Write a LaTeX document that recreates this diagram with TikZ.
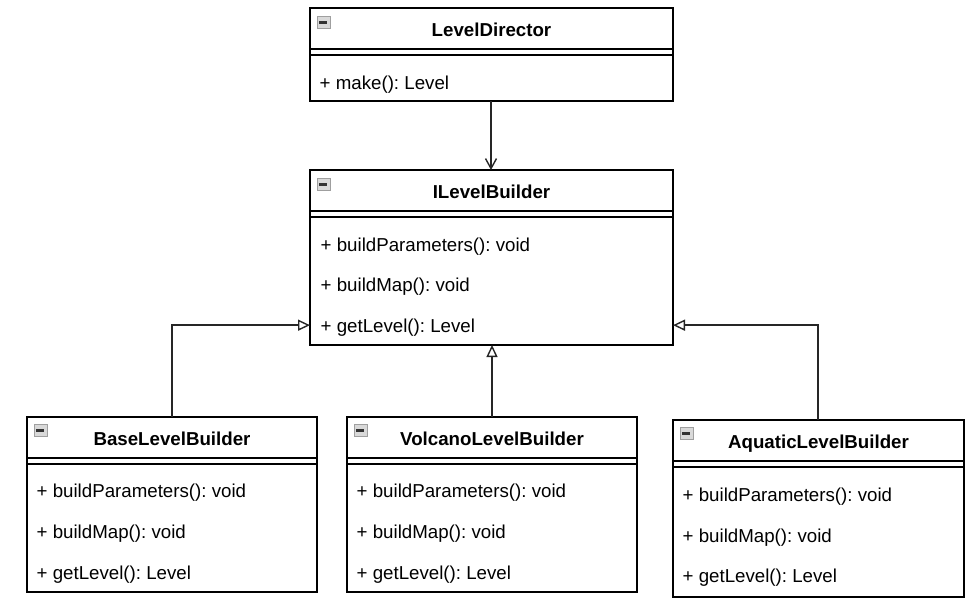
\documentclass[tikz,border=0pt]{standalone}
\usepackage{fontspec}
\setmainfont{Liberation Sans}
\usetikzlibrary{arrows.meta}
\frenchspacing

\begin{document}
\begin{tikzpicture}[x=1pt,y=-1pt,line width=1.4pt,
  class/.style={draw,anchor=north west,inner sep=0pt,outer sep=0pt,minimum width=290pt,minimum height=175pt},
  class name/.style={anchor=base,font=\fontsize{18.7}{22}\selectfont\bfseries},
  member/.style={anchor=base west,inner sep=0pt,font=\fontsize{18.7}{22}\selectfont},
  fold/.style={anchor=north west,draw=gray!75,fill=gray!30,line width=0.9pt,
    minimum width=13pt,minimum height=12pt,inner sep=0pt,
    path picture={\draw[line width=2.2pt,black!80]
      ([xshift=2.5pt]path picture bounding box.west) -- ([xshift=-2.5pt]path picture bounding box.east);}},
  inherit/.style={draw=black!85,line width=1.6pt,-{Triangle[open,length=12pt,width=11pt,line width=1.4pt]}},
  uses/.style={draw=black!85,line width=1.6pt,-{Straight Barb[length=10pt,width=11pt,line width=1.4pt]}}]

\useasboundingbox (0,0) rectangle (980,600);

% director
\node[class,minimum width=363pt,minimum height=93pt] (director) at (310,8) {};
\node[fold] (director fold) at ([shift={(6.5pt,-8pt)}]director.north west) {};
\node[class name] (director name) at ([yshift=-28pt]director.north) {LevelDirector};
\draw ([yshift=-41pt]director.north west) -- ([yshift=-41pt]director.north east)
      ([yshift=-47pt]director.north west) -- ([yshift=-47pt]director.north east);
\node[member] (director make) at ([shift={(9pt,-81pt)}]director.north west) {+ make(): Level};

% builder interface
\node[class,minimum width=363pt] (builder) at (310,170) {};
\node[fold] (builder fold) at ([shift={(6.5pt,-8pt)}]builder.north west) {};
\node[class name] (builder name) at ([yshift=-28pt]builder.north) {ILevelBuilder};
\draw ([yshift=-41pt]builder.north west) -- ([yshift=-41pt]builder.north east)
      ([yshift=-47pt]builder.north west) -- ([yshift=-47pt]builder.north east);
\node[member] (builder params) at ([shift={(10pt,-81.5pt)}]builder.north west) {+ buildParameters(): void};
\node[member] (builder map) at ([shift={(10pt,-121.5pt)}]builder.north west) {+ buildMap(): void};
\node[member] (builder level) at ([shift={(10pt,-162.5pt)}]builder.north west) {+ getLevel(): Level};

% base
\node[class] (base) at (27,417) {};
\node[fold] (base fold) at ([shift={(6.5pt,-7pt)}]base.north west) {};
\node[class name] (base name) at ([yshift=-28.5pt]base.north) {BaseLevelBuilder};
\draw ([yshift=-41pt]base.north west) -- ([yshift=-41pt]base.north east)
      ([yshift=-47pt]base.north west) -- ([yshift=-47pt]base.north east);
\node[member] (base params) at ([shift={(9pt,-80.5pt)}]base.north west) {+ buildParameters(): void};
\node[member] (base map) at ([shift={(9pt,-121.5pt)}]base.north west) {+ buildMap(): void};
\node[member] (base level) at ([shift={(9pt,-162pt)}]base.north west) {+ getLevel(): Level};

% volcano
\node[class] (volcano) at (347,417) {};
\node[fold] (volcano fold) at ([shift={(6.5pt,-7pt)}]volcano.north west) {};
\node[class name] (volcano name) at ([yshift=-28.5pt]volcano.north) {VolcanoLevelBuilder};
\draw ([yshift=-41pt]volcano.north west) -- ([yshift=-41pt]volcano.north east)
      ([yshift=-47pt]volcano.north west) -- ([yshift=-47pt]volcano.north east);
\node[member] (volcano params) at ([shift={(9pt,-80.5pt)}]volcano.north west) {+ buildParameters(): void};
\node[member] (volcano map) at ([shift={(9pt,-121.5pt)}]volcano.north west) {+ buildMap(): void};
\node[member] (volcano level) at ([shift={(9pt,-162pt)}]volcano.north west) {+ getLevel(): Level};

% aquatic
\node[class,minimum width=291pt,minimum height=177pt] (aquatic) at (673,420) {};
\node[fold] (aquatic fold) at ([shift={(6.5pt,-7pt)}]aquatic.north west) {};
\node[class name] (aquatic name) at ([yshift=-28pt]aquatic.north) {AquaticLevelBuilder};
\draw ([yshift=-41pt]aquatic.north west) -- ([yshift=-41pt]aquatic.north east)
      ([yshift=-47pt]aquatic.north west) -- ([yshift=-47pt]aquatic.north east);
\node[member] (aquatic params) at ([shift={(9pt,-81.5pt)}]aquatic.north west) {+ buildParameters(): void};
\node[member] (aquatic map) at ([shift={(9pt,-122pt)}]aquatic.north west) {+ buildMap(): void};
\node[member] (aquatic level) at ([shift={(9pt,-162.5pt)}]aquatic.north west) {+ getLevel(): Level};

% connectors
\draw[uses] ([xshift=-0.5pt]director.south) -- ([xshift=-0.5pt]builder.north);
\draw[inherit] (base.north) |- ([yshift=2.5pt]builder level.west -| builder.west);
\draw[inherit] (volcano.north) -- (volcano.north |- builder.south);
\draw[inherit] ([xshift=-0.5pt]aquatic.north) |- ([yshift=2.5pt]builder level.west -| builder.east);

\end{tikzpicture}
\end{document}
